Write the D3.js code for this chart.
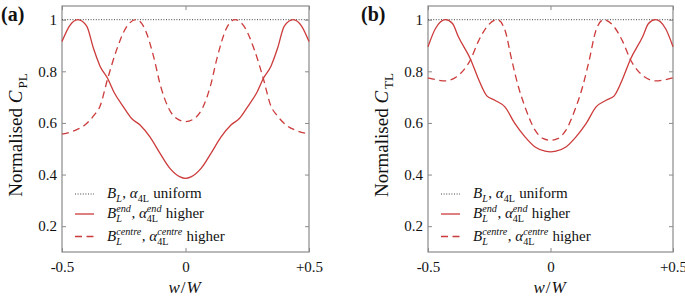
<!DOCTYPE html>
<html lang="en">
<head>
<meta charset="UTF-8">
<title>Normalised C</title>
<script src="https://d3js.org/d3.v7.min.js"></script>
</head>
<body style="margin:0;background:#fff">
<svg width="685" height="298"></svg>
<script>
// x positions and values
var wA_end = [-0.5,-0.47,-0.436,-0.40,-0.373,-0.346,-0.315,-0.29,-0.252,-0.218,-0.184,-0.144,-0.103,-0.063,-0.022,0,
              0.022,0.063,0.103,0.144,0.184,0.218,0.252,0.29,0.315,0.346,0.373,0.40,0.436,0.47,0.5];
var vA_end = [0.915,0.975,1.0,0.975,0.89,0.82,0.772,0.72,0.663,0.617,0.592,0.546,0.482,0.424,0.391,0.385,
              0.391,0.424,0.482,0.546,0.592,0.617,0.663,0.72,0.772,0.82,0.89,0.975,1.0,0.975,0.915];
var wA_centre = [-0.5,-0.45,-0.41,-0.37,-0.346,-0.315,-0.28,-0.24,-0.2,-0.165,-0.13,-0.1,-0.07,-0.04,0,
                 0.04,0.07,0.1,0.13,0.165,0.2,0.24,0.28,0.315,0.346,0.37,0.41,0.45,0.5];
var vA_centre = [0.557,0.570,0.590,0.630,0.665,0.772,0.88,0.97,1.0,0.965,0.86,0.74,0.66,0.62,0.605,
                 0.62,0.66,0.74,0.86,0.965,1.0,0.97,0.88,0.772,0.665,0.630,0.590,0.570,0.557];

var wB_end = [-0.5,-0.47,-0.428,-0.40,-0.376,-0.326,-0.295,-0.26,-0.227,-0.186,-0.145,-0.104,-0.063,-0.022,0,
              0.022,0.063,0.104,0.145,0.186,0.227,0.26,0.295,0.326,0.376,0.40,0.428,0.47,0.5];
var vB_end = [0.895,0.965,1.0,0.985,0.934,0.846,0.772,0.705,0.688,0.662,0.597,0.546,0.507,0.491,0.488,
              0.491,0.507,0.546,0.597,0.662,0.688,0.705,0.772,0.846,0.934,0.985,1.0,0.965,0.895];
var wB_centre = [-0.5,-0.47,-0.429,-0.383,-0.326,-0.295,-0.254,-0.217,-0.186,-0.158,-0.131,-0.104,-0.063,-0.029,0,
                 0.029,0.063,0.104,0.131,0.158,0.186,0.217,0.254,0.295,0.326,0.383,0.429,0.47,0.5];
var vB_centre = [0.775,0.768,0.763,0.779,0.846,0.915,0.979,1.0,0.96,0.843,0.74,0.662,0.572,0.539,0.533,
                 0.539,0.572,0.662,0.74,0.843,0.96,1.0,0.979,0.915,0.846,0.779,0.763,0.768,0.775];

var uniform = [1, 1];
var xTicks = [-0.5, 0, 0.5];
var xTickLabels = ['-0.5', '0', '+0.5'];
var yTicks = [0.2, 0.4, 0.6, 0.8, 1];
var yTickLabels = ['0.2', '0.4', '0.6', '0.8', '1'];

var red = '#cc3b3b', frame = '#8a8a8a', serif = '"Liberation Serif", "Times New Roman", serif';
var svg = d3.select('svg');

// text helper: runs of plain / italic text plus stacked sub- and superscripts
function rich(g, x, y, parts, size) {
    var cx = x;
    function put(px, py, fs, it, s) {
        return g.append('text').attr('x', px).attr('y', py)
            .style('font-family', serif).style('font-size', fs + 'px')
            .style('font-style', it ? 'italic' : 'normal').style('white-space', 'pre')
            .attr('fill', '#111').text(s);
    }
    parts.forEach(function (p) {
        if (p.sub !== undefined || p.sup !== undefined) {
            var w = 0;
            if (p.sub !== undefined) w = Math.max(w, put(cx, y + 4, size * 0.68, !p.subUp, p.sub).node().getComputedTextLength());
            if (p.sup !== undefined) w = Math.max(w, put(cx, y - 6, size * 0.68, true, p.sup).node().getComputedTextLength());
            cx += w + 0.5;
        } else {
            cx += put(cx, y, size, p.it, p.t).node().getComputedTextLength();
        }
    });
}

function panel(opt) {
    var x = d3.scaleLinear().domain([-0.5, 0.5]).range([opt.left, opt.right]);
    var y = d3.scaleLinear().domain([0.1, 1.053]).range([252, 6]);
    var g = svg.append('g');

    // inward ticks
    g.append('g').attr('transform', 'translate(' + opt.left + ',0)')
        .call(d3.axisLeft(y).tickValues(yTicks).tickSize(-4).tickPadding(5)
            .tickFormat(function (d, i) { return yTickLabels[i]; }));
    g.append('g').attr('transform', 'translate(' + opt.right + ',0)')
        .call(d3.axisRight(y).tickValues(yTicks).tickSize(-4).tickFormat(''));
    g.append('g').attr('transform', 'translate(0,252)')
        .call(d3.axisBottom(x).tickValues(xTicks).tickSize(-4).tickPadding(9)
            .tickFormat(function (d, i) { return xTickLabels[i]; }));
    g.append('g').attr('transform', 'translate(0,6)')
        .call(d3.axisTop(x).tickValues(xTicks).tickSize(-4).tickFormat(''));
    g.selectAll('.domain').remove();
    g.selectAll('.tick line').attr('stroke', frame);
    g.selectAll('.tick text').attr('fill', '#111')
        .style('font-family', serif).style('font-size', '15px');

    g.append('rect').attr('x', opt.left).attr('y', 6)
        .attr('width', opt.right - opt.left).attr('height', 246)
        .attr('fill', 'none').attr('stroke', frame).attr('stroke-width', 1.2);

    var line = d3.line().x(function (d) { return x(d[0]); }).y(function (d) { return y(d[1]); })
        .curve(d3.curveMonotoneX);

    g.append('path').datum([[-0.5, uniform[0]], [0.5, uniform[1]]]).attr('d', line)
        .attr('fill', 'none').attr('stroke', '#444').attr('stroke-width', 1).attr('stroke-dasharray', '1,1.6');
    g.append('path').datum(d3.zip(opt.wEnd, opt.vEnd)).attr('d', line)
        .attr('fill', 'none').attr('stroke', red).attr('stroke-width', 1.3);
    g.append('path').datum(d3.zip(opt.wCentre, opt.vCentre)).attr('d', line)
        .attr('fill', 'none').attr('stroke', red).attr('stroke-width', 1.3).attr('stroke-dasharray', '7,4.5');

    // legend
    var lx = opt.left + 13, tx = opt.left + 45;
    g.append('line').attr('x1', lx).attr('x2', lx + 19).attr('y1', 194).attr('y2', 194)
        .attr('stroke', '#444').attr('stroke-dasharray', '1,1.6');
    g.append('line').attr('x1', lx).attr('x2', lx + 19).attr('y1', 214).attr('y2', 214)
        .attr('stroke', red).attr('stroke-width', 1.3);
    g.append('line').attr('x1', lx).attr('x2', lx + 19).attr('y1', 236.5).attr('y2', 236.5)
        .attr('stroke', red).attr('stroke-width', 1.3).attr('stroke-dasharray', '7,4.5');
    rich(g, tx, 198, [{t: 'B', it: true}, {sub: 'L'}, {t: ', '}, {t: 'α', it: true}, {sub: '4L', subUp: true},
        {t: ' uniform'}], 15);
    rich(g, tx, 218, [{t: 'B', it: true}, {sub: 'L', sup: 'end'}, {t: ', '}, {t: 'α', it: true},
        {sub: '4L', sup: 'end', subUp: true}, {t: ' higher'}], 15);
    rich(g, tx, 241, [{t: 'B', it: true}, {sub: 'L', sup: 'centre'}, {t: ', '}, {t: 'α', it: true},
        {sub: '4L', sup: 'centre', subUp: true}, {t: ' higher'}], 15);

    // axis titles
    var mid = (opt.left + opt.right) / 2;
    svg.append('text').attr('x', mid - 1).attr('y', 293).attr('text-anchor', 'middle').attr('fill', '#111')
        .style('font-family', serif).style('font-size', '17px')
        .html('<tspan font-style="italic">w</tspan><tspan dx="1">/</tspan><tspan dx="1" font-style="italic">W</tspan>');
    svg.append('text').attr('transform', 'translate(' + (opt.left - 40) + ',135) rotate(-90)')
        .attr('text-anchor', 'middle').attr('fill', '#111')
        .style('font-family', serif).style('font-size', '19px')
        .html('Normalised <tspan font-style="italic">C</tspan><tspan dy="5" dx="2" font-size="13">' + opt.sub + '</tspan>');

    svg.append('text').attr('x', opt.labelX).attr('y', 21).attr('fill', '#111')
        .style('font-family', serif).style('font-size', '20px').style('font-weight', 'bold')
        .text(opt.label);
}

panel({left: 62, right: 309, wEnd: wA_end, vEnd: vA_end, wCentre: wA_centre, vCentre: vA_centre,
    sub: 'PL', label: '(a)', labelX: 1});
panel({left: 428, right: 673, wEnd: wB_end, vEnd: vB_end, wCentre: wB_centre, vCentre: vB_centre,
    sub: 'TL', label: '(b)', labelX: 361});
</script>
</body>
</html>
